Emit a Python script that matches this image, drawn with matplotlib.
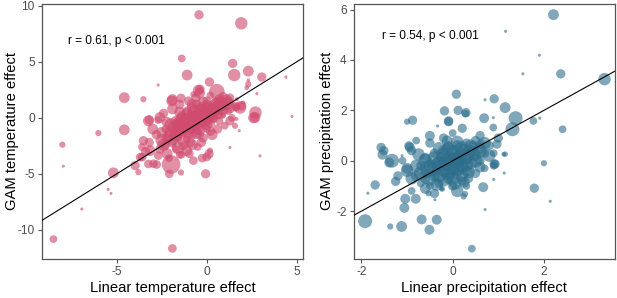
import matplotlib.pyplot as plt

plt.rcParams['font.family'] = ['Liberation Sans', 'DejaVu Sans']
plt.rcParams['axes.unicode_minus'] = False

# temperature panel: linear effect (x), GAM effect (y), weight (bubble size)
temp_x = [-0.43, 1.92, -1.39, 1.44, 2.31, 1.53, 3.06, -1.09, -2.7, 0.15, 4.4, 2.31, -4.58, -3.52, -1.91,
          -1.43, 0.56, -0.47, 2.22, 2.78, 2.03, 2.71, 2.6, 1.85, 4.74, -3.19, -2.6, -4.58, -6.02, -8.02,
          -3.52, 1.29, 1.65, -8.52, -1.91, -7.97, -5.19, -5.48, -5.32, -6.94, 2.96, -0.06, -2.08, -1.98,
          -1.43, -3.98, -3.8, -2.78, -3.24, -0.74, 0.13, -0.97, -0.26, -3.58, -1.5, -0.37, -1.94, -0.74,
          -0.56, 0.0, 0.74, 1.29, 1.67, 2.68, 1.29, 1.57, 1.81, -3.24, -3.15, -1.11, 0.18, 0.0, -3.7,
          -2.96, -2.69, 1.94, 1.67, 2.31,
          -2.8, -2.5, -2.3, -2.1, -2.0, -1.9, -1.8, -1.7, -1.6, -1.5, -1.4, -1.3, -1.2, -1.1, -1.0, -0.9,
          -0.8, -0.8, -0.7, -0.6, -0.5, -0.4, -0.3, -0.3, -0.2, -0.1, 0.0, 0.0, 0.1, 0.2, 0.3, 0.4, 0.5,
          0.6, 0.7, 0.8, 0.9, 1.0, 1.1, 1.2, -2.6, -2.2, -1.7, -1.3, -0.9, -0.5, -0.2, 0.3, -3.2, -3.0,
          -2.7, -2.4, -1.9, -1.5, -1.0, -0.6, -2.1, -1.4, -3.4, -3.6, 0.6, 1.4, 1.6, 0.9, 0.2, -0.4, -1.2,
          -0.6, -1.6, -0.2, 0.4, -0.9, -2.3, -1.1, -0.4,
          -1.8, -1.5, -1.2, -1.0, -0.8, -0.6, -0.4, -0.2, 0.0, 0.2, 0.4, 0.6, 0.8, 1.0, 1.2,
          -1.6, -1.3, -0.9, -0.5, -0.1, 0.3, 0.7, -1.1, -0.7, -0.3, 0.1, 0.5, -1.4, -2.0, -1.7,
          -0.4, 0.0, 0.9, -1.0, -0.6, -1.3, -1.9, -2.2, -0.8, 1.3, -2.5, -0.2, 0.7, -1.5, -2.2,
          -0.8, -1.6, -2.4, -0.3, 0.2]
temp_y = [9.2, 8.44, 5.3, 4.86, 4.17, 3.82, 3.64, 3.82, 2.93, 3.2, 3.64, 3.0, 1.8, 1.66, 1.63,
          1.75, 2.34, 2.46, 2.69, 2.16, 1.36, 0.47, 0.0, 0.92, 0.12, -0.18, 0.03, -1.07, -1.36, -2.4,
          -2.04, -2.64, -0.1, -10.83, -11.66, -4.32, -4.91, -6.39, -6.75, -8.14, -3.4, -5.0, -5.0, -4.17,
          -4.88, -4.26, -4.85, -4.17, -4.12, -3.82, -3.23, -3.2, -3.6, -3.5, -3.3, 2.55, 1.51, 2.1,
          1.22, 1.51, 1.5, 1.8, 0.92, 0.03, -0.27, -0.71, -1.15, -0.27, -2.93, -2.93, -2.93, -3.5, -3.52,
          -4.1, -3.37, 1.07, 1.66, 3.35,
          -1.5, -2.0, -1.0, -1.6, -0.6, -2.3, -1.2, -0.3, -1.8, -0.8, 0.2, -1.4, -0.4, 0.6, -1.0, -0.1,
          0.9, -1.6, -0.6, 0.3, -1.2, 0.0, 1.0, -0.8, 0.5, -0.3, 1.2, -1.0, 0.2, -0.5, 0.8, -0.1, 1.4,
          0.4, -0.3, 1.0, 0.2, -0.7, 1.6, 0.6, -2.8, -3.2, -2.8, -2.5, -2.2, -2.6, -1.8, -1.5, -2.2, -1.0,
          -0.2, 0.4, 0.8, 1.2, 1.5, 1.8, -3.6, -3.3, -3.0, -2.6, -1.0, 0.0, 1.0, 1.9, 2.0, 2.2, -0.9,
          -0.3, -0.5, 0.9, 0.5, 0.3, -2.4, -1.9, -1.5,
          -0.9, -0.6, -0.5, -0.2, -0.4, 0.0, 0.2, 0.1, 0.4, 0.5, 0.7, 0.9, 1.1, 1.2, 1.3,
          -1.2, -0.9, -0.8, -0.4, -0.2, 0.1, 0.4, 0.3, 0.6, 0.7, 0.9, 1.2, -0.1, -1.3, -1.6,
          -1.0, -0.6, 0.7, -1.3, -1.4, -2.0, -2.0, -1.8, 1.2, 0.9, -1.3, 1.4, 1.6, 0.5, -0.4,
          -2.4, -2.7, -2.4, -2.2, -1.2]
temp_w = [3, 4, 2.5, 3, 3.5, 4, 3, 3.5, 1, 3, 1, 2, 3.5, 2, 3.5,
          3, 5, 3.5, 1.5, 1, 1.3, 4, 3.5, 4, 1, 3, 3.5, 3.5, 2, 2,
          3, 1, 1.3, 2.5, 2.8, 1, 3.5, 1, 1, 1, 1, 3, 2.8, 6,
          2, 3, 2, 2.8, 2.8, 2.8, 3, 2.8, 2.8, 2.8, 2.5, 3, 3.5, 2,
          3, 2.8, 3, 2.8, 2.5, 3.5, 3, 2, 1, 3.5, 3.5, 3.5, 2, 2.8, 2.8,
          2.8, 2.8, 3, 1.3, 1.2,
          3, 4, 2.5, 3.5, 4, 2.5, 3, 3.5, 2.5, 4.5, 3, 2.5, 3.5, 3, 4, 3,
          3.5, 2.5, 4, 3, 2.5, 4.5, 3, 2.5, 3.5, 4, 3, 2.5, 5, 3, 3.5, 2.5, 3,
          3.5, 2.5, 3, 2, 2.5, 3.5, 2.5, 3, 3.5, 2.5, 3, 3, 2.5, 3, 3.5, 3, 3.5,
          2.5, 3, 3.5, 3, 3, 3, 2.5, 2.5, 3, 2.5, 3, 2.5, 3, 3, 2.5, 3.5, 3,
          2.5, 3, 2.5, 3, 2.5, 3, 2.5, 3,
          4.5, 5, 4.5, 5, 4.5, 5, 4.5, 5, 4.5, 5, 4.5, 4.5, 4, 4, 4,
          4, 4, 4.5, 4.5, 4, 4, 4, 4, 4, 4, 4, 4, 4, 4, 4,
          4, 3.5, 3.5, 4, 3.5, 4, 3.5, 3.5, 3.5, 3.5, 3.5, 3.5, 3.5, 3.5, 3.5,
          3.5, 4, 4, 3, 3]

# precipitation panel
prec_x = [2.21, 1.16, 1.9, 1.54, 2.37, 3.33, 0.08, 0.71, 0.91, 1.15, -0.18, 0.12, 0.29, -0.88, -1.0,
          -0.09, 0.69, 0.89, 1.38, 1.31, 1.77, 1.91, 2.41, -0.5, -0.33, 0.21, 0.89, -1.57, -0.94,
          -1.92, -1.37, -1.12, -0.68, -0.35, -0.51, 0.42, -1.06, -1.04, -0.81, -0.53, -0.39, -1.7, -1.86,
          -1.25, 0.27, 0.24, 0.67, 0.71, 0.9, 1.13, 1.79, 2.0, 2.14, -0.24, -1.39, -1.54, 0.93, 1.15,
          -0.96, -1.11, -0.23, 0.91, -1.51, -1.33, -0.12, 0.97, 1.12, 0.61, 0.28, -0.09,
          -0.8, -0.7, -0.7, -0.6, -0.6, -0.5, -0.5, -0.4, -0.4, -0.3, -0.3, -0.2, -0.2, -0.1, -0.1, 0.0,
          0.0, 0.0, 0.1, 0.1, 0.1, 0.2, 0.2, 0.2, 0.3, 0.3, 0.3, 0.4, 0.4, 0.5, 0.5, 0.5, 0.6, 0.6, 0.7,
          0.7, 0.8, -0.9, -1.0, -0.9, -0.2, 0.0, -0.5, -0.4, 0.1, -0.15, 0.05, -0.25, 0.15, -0.35, 0.25,
          -0.05, 0.35, -0.6, 0.45, -1.1, -1.2, 0.9, 0.9, 1.0, -0.8, 0.6, -0.1, 0.3,
          -0.7, -0.55, -0.4, -0.3, -0.15, 0.0, 0.15, 0.3, 0.45, 0.6, -0.5, -0.3, -0.1, 0.1, 0.3,
          0.5, -0.6, -0.4, -0.2, 0.0, 0.2, 0.4, -0.2, 0.0, 0.2, -0.8, -0.9, 0.7, 0.8, -0.1,
          0.05, -0.35, 0.35, -0.75, 0.6, -1.0, -0.3, 0.1, 0.25, -0.6]
prec_y = [5.8, 5.14, 4.19, 3.45, 3.45, 3.24, 2.64, 2.42, 2.46, 2.11, 1.98, 2.0, 1.91, 1.61, 1.55,
          1.58, 1.69, 1.71, 1.69, 1.25, 1.58, 1.69, 1.25, 0.99, 1.38, 1.29, 1.32, 0.53, 0.53,
          -2.4, -2.61, -2.61, -2.33, -2.34, -2.74, -3.49, -1.87, -1.51, -1.51, -1.29, -1.55, -0.96, -1.29,
          -0.82, -1.32, -1.42, -1.05, -1.94, -0.74, -0.49, -1.09, -0.1, -1.61, -1.12, -0.07, 0.24, -0.13, 0.26,
          0.59, 0.2, -1.12, -0.13, 0.4, 0.0, 0.79, 0.66, 0.26, 0.66, 1.87, 1.55,
          -0.6, -0.2, -0.9, 0.1, -0.5, -1.0, -0.2, 0.3, -0.6, -0.1, -0.9, 0.4, -0.4, 0.0, -0.7, 0.3,
          -0.3, -1.0, 0.6, 0.0, -0.5, 0.3, -0.2, -0.8, 0.7, 0.1, -0.4, 0.4, -0.1, 0.8, 0.2, -0.5, 0.5, 0.0, 0.3,
          -0.3, 0.6, 0.4, -0.3, -1.2, 0.9, 1.1, 0.7, -1.3, -1.2, -0.15, 0.15, 0.15, -0.25, -0.35, 0.45,
          -0.5, -0.7, -0.75, 0.6, 0.0, -0.6, 0.3, -0.2, 0.9, 0.8, 1.0, 0.6, -1.0,
          -0.5, -0.35, -0.3, -0.15, -0.1, 0.0, 0.1, 0.2, 0.3, 0.4, -0.7, -0.55, -0.45, -0.3, -0.15,
          0.0, 0.0, 0.1, 0.25, 0.35, 0.5, 0.6, -0.75, -0.7, -0.6, -0.2, -0.7, 0.7, 0.2, 0.5,
          -0.9, -0.95, -0.45, 0.25, -0.25, -0.4, 0.5, 0.75, -0.85, -1.1]
prec_w = [3.5, 1, 1, 1, 3, 4, 3, 1, 3, 3.5, 3, 3, 3, 3, 2,
          3, 3.2, 1, 4.5, 4.5, 2.5, 1, 2.5, 3.2, 1, 3, 2.5, 3, 3.2,
          4.5, 2, 3.5, 3.2, 3.2, 3.2, 2.5, 3.2, 3.2, 3.2, 2, 1, 3, 1,
          3, 2, 2, 3.2, 1, 1, 1, 3, 2, 1, 1.5, 3.2, 3.2, 3, 1.8,
          3, 1, 1.8, 3, 3, 4.5, 3.5, 3, 1.5, 3, 2.5, 3,
          3.5, 3, 2.5, 3.5, 3, 2.5, 4, 3, 3.5, 4.5, 3, 3.5, 4, 5, 3.5, 4,
          4.5, 3, 3.5, 5, 3.5, 4, 4.5, 3, 3, 4, 3.5, 3.5, 4, 3, 3.5, 3, 3.5, 3, 3,
          2.5, 3, 3, 3.5, 2.5, 3, 2.5, 3, 3, 4, 4, 3.5, 3.5, 3.5, 3, 3.5,
          3.5, 3, 3, 3, 2.5, 3, 2.5, 2.5, 3, 2.5, 3, 3, 2.5,
          4.5, 5, 5, 5, 5, 5, 5, 5, 4.5, 4.5, 4.5, 5, 5, 5, 4.5,
          4.5, 4.5, 4.5, 4.5, 4.5, 4.5, 4, 4.5, 4.5, 4, 4, 4, 4, 4, 4,
          4, 4, 4, 4, 3.5, 4, 4, 4, 3.5, 3.5]

x_labels = ["Linear temperature effect", "Linear precipitation effect"]
y_labels = ["GAM temperature effect", "GAM precipitation effect"]
stats_text = ["r = 0.61, p < 0.001", "r = 0.54, p < 0.001"]

fig = plt.figure(figsize=(6.17, 2.98), dpi=100)
ax1 = fig.add_axes([0.0676, 0.131, 0.4235, 0.857])
ax2 = fig.add_axes([0.5733, 0.131, 0.4235, 0.857])

ax1.scatter(temp_x, temp_y, s=[5.0 * w ** 2 for w in temp_w], color='#D04B6E', alpha=0.62,
            linewidths=0, zorder=2)
ax2.scatter(prec_x, prec_y, s=[5.0 * w ** 2 for w in prec_w], color='#2D6E8C', alpha=0.6,
            linewidths=0, zorder=2)

for ax in (ax1, ax2):
    ax.axline((0, 0), slope=1, color='black', lw=0.8, zorder=3)
    for sp in ax.spines.values():
        sp.set_color('#555555')
        sp.set_linewidth(0.9)
    ax.tick_params(direction='out', length=3, width=0.8, color='#555555',
                   labelsize=8.6, labelcolor='#4D4D4D', pad=2)

ax1.set_xlim(-9.17, 5.35)
ax1.set_ylim(-12.6, 10.2)
ax1.set_xticks([-5, 0, 5])
ax1.set_yticks([-10, -5, 0, 5, 10])
ax2.set_xlim(-2.17, 3.56)
ax2.set_ylim(-3.9, 6.24)
ax2.set_xticks([-2, 0, 2])
ax2.set_yticks([-2, 0, 2, 4, 6])

ax1.text(-5, 6.85, stats_text[0], ha='center', va='center', fontsize=8.6)
ax2.text(-0.5, 4.97, stats_text[1], ha='center', va='center', fontsize=8.6)

for ax, xl, yl in zip((ax1, ax2), x_labels, y_labels):
    ax.set_xlabel(xl, fontsize=10.6, labelpad=2)
    ax.set_ylabel(yl, fontsize=10.6)
ax1.yaxis.set_label_coords(-0.085, 0.5)
ax2.yaxis.set_label_coords(-0.077, 0.5)

fig.savefig('out.png', dpi=100)
